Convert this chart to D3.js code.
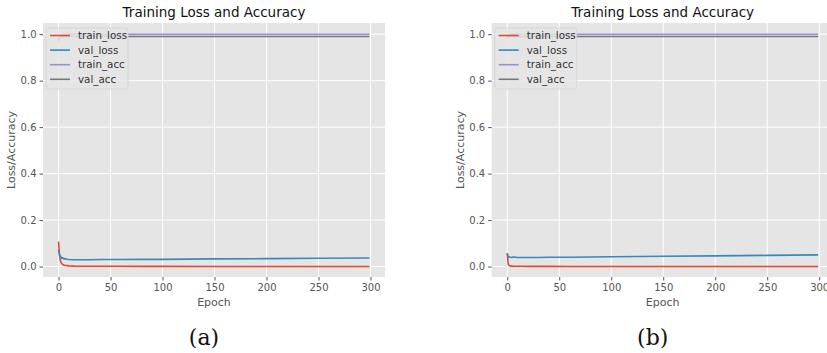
<!DOCTYPE html>
<html>
<head>
<meta charset="utf-8">
<script src="https://cdn.jsdelivr.net/npm/d3@7"></script>
<style>
  body { margin: 0; background: #fff; }
  svg { display: block; }
</style>
</head>
<body>
<div id="chart"></div>
<script>
var epochs = [0, 1, 2, 3, 4, 5, 6, 8, 10, 15, 20, 30, 40, 60, 80, 100, 150, 200, 250, 299];

// panel (a)
var trainLossA = [0.107, 0.045, 0.022, 0.013, 0.009, 0.006, 0.005, 0.004, 0.003, 0.002, 0.0015, 0.001, 0.001, 0.001, 0.0008, 0.0007, 0.0005, 0.0004, 0.0004, 0.0003];
var valLossA   = [0.072, 0.050, 0.043, 0.036, 0.038, 0.033, 0.034, 0.031, 0.030, 0.029, 0.029, 0.029, 0.030, 0.030, 0.031, 0.031, 0.033, 0.034, 0.036, 0.037];
var trainAccA  = [0.968, 0.988, 0.994, 0.996, 0.997, 0.998, 0.998, 0.999, 0.999, 0.999, 0.9995, 0.9995, 0.9995, 0.9995, 0.9995, 0.9995, 0.9995, 0.9995, 0.9995, 0.9995];
var valAccA    = [0.975, 0.984, 0.986, 0.988, 0.988, 0.989, 0.989, 0.990, 0.990, 0.990, 0.990, 0.990, 0.990, 0.990, 0.990, 0.990, 0.990, 0.990, 0.990, 0.990];

// panel (b)
var trainLossB = [0.058, 0.010, 0.004, 0.003, 0.002, 0.002, 0.0015, 0.0012, 0.001, 0.001, 0.0008, 0.0007, 0.0006, 0.0005, 0.0005, 0.0004, 0.0004, 0.0003, 0.0003, 0.0003];
var valLossB   = [0.055, 0.040, 0.042, 0.040, 0.039, 0.040, 0.041, 0.040, 0.039, 0.039, 0.039, 0.039, 0.040, 0.040, 0.041, 0.042, 0.044, 0.046, 0.048, 0.050];
var trainAccB  = [0.982, 0.996, 0.998, 0.999, 0.999, 0.9995, 0.9995, 0.9995, 0.9995, 0.9995, 0.9995, 0.9995, 0.9995, 0.9995, 0.9995, 0.9995, 0.9995, 0.9995, 0.9995, 0.9995];
var valAccB    = [0.985, 0.988, 0.989, 0.989, 0.990, 0.990, 0.990, 0.990, 0.990, 0.990, 0.990, 0.990, 0.990, 0.990, 0.990, 0.990, 0.990, 0.990, 0.990, 0.990];

var seriesNames = ["train_loss", "val_loss", "train_acc", "val_acc"];
var seriesColors = ["#E24A33", "#348ABD", "#988ED5", "#777777"];
var xTicks = [0, 50, 100, 150, 200, 250, 300];
var yTicks = [0.0, 0.2, 0.4, 0.6, 0.8, 1.0];
var panelLabels = ["(a)", "(b)"];

var width = 827, height = 353;

var svg = d3.select("#chart").append("svg")
    .attr("width", width)
    .attr("height", height);

function drawPanel(left, seriesList, label) {
  var top = 23, plotW = 342, plotH = 254;

  var xScale = d3.scaleLinear()
    .domain([-14.95, 313.95])
    .range([left, left + plotW]);
  var yScale = d3.scaleLinear()
    .domain([-0.045, 1.048])
    .range([top + plotH, top]);

  var g = svg.append("g");

  g.append("rect")
    .attr("x", left).attr("y", top)
    .attr("width", plotW).attr("height", plotH)
    .style("fill", "#E5E5E5");

  // grid
  g.selectAll(".vgrid")
    .data(xTicks)
   .enter()
    .append("line")
    .attr("class", "vgrid")
    .attr("x1", function(d) { return xScale(d); })
    .attr("x2", function(d) { return xScale(d); })
    .attr("y1", top).attr("y2", top + plotH)
    .style("stroke", "#fff").style("stroke-width", 1);
  g.selectAll(".hgrid")
    .data(yTicks)
   .enter()
    .append("line")
    .attr("class", "hgrid")
    .attr("x1", left).attr("x2", left + plotW)
    .attr("y1", function(d) { return yScale(d); })
    .attr("y2", function(d) { return yScale(d); })
    .style("stroke", "#fff").style("stroke-width", 1);

  // axes
  var xAxis = d3.axisBottom(xScale).tickValues(xTicks).tickSize(3.5).tickPadding(3)
    .tickFormat(d3.format("d"));
  var yAxis = d3.axisLeft(yScale).tickValues(yTicks).tickSize(3.5).tickPadding(3)
    .tickFormat(d3.format(".1f"));

  var gx = g.append("g")
    .attr("transform", "translate(0," + (top + plotH) + ")")
    .call(xAxis);
  var gy = g.append("g")
    .attr("transform", "translate(" + left + ",0)")
    .call(yAxis);
  [gx, gy].forEach(function(a) {
    a.select(".domain").remove();
    a.selectAll("line").style("stroke", "#555");
    a.selectAll("text")
      .style("fill", "#555")
      .style("font-size", "10px")
      .style("font-family", "DejaVu Sans");
  });

  // lines
  var line = d3.line()
    .x(function(d) { return xScale(d[0]); })
    .y(function(d) { return yScale(d[1]); });

  seriesList.forEach(function(vals, i) {
    g.append("path")
      .datum(epochs.map(function(e, j) { return [e, vals[j]]; }))
      .attr("d", line)
      .style("fill", "none")
      .style("stroke", seriesColors[i])
      .style("stroke-width", 1.6);
  });

  // title and labels
  g.append("text")
    .attr("x", left + plotW / 2).attr("y", 17)
    .attr("text-anchor", "middle")
    .text("Training Loss and Accuracy")
    .style("font-size", "13.5px")
    .style("font-family", "DejaVu Sans")
    .style("fill", "#111");

  g.append("text")
    .attr("x", left + plotW / 2).attr("y", 306)
    .attr("text-anchor", "middle")
    .text("Epoch")
    .style("font-size", "11px")
    .style("font-family", "DejaVu Sans")
    .style("fill", "#555");

  g.append("text")
    .attr("transform", "translate(" + (left - 28) + "," + (top + plotH / 2) + ") rotate(-90)")
    .attr("text-anchor", "middle")
    .text("Loss/Accuracy")
    .style("font-size", "11px")
    .style("font-family", "DejaVu Sans")
    .style("fill", "#555");

  // legend
  var lx = left + 3, ly = top + 5;
  g.append("rect")
    .attr("x", lx).attr("y", ly)
    .attr("width", 82).attr("height", 61)
    .attr("rx", 3)
    .style("fill", "#E5E5E5").style("fill-opacity", 0.85)
    .style("stroke", "#d4d4d4").style("stroke-width", 0.8);

  var items = g.selectAll(".legendItem")
    .data(seriesNames)
   .enter()
    .append("g")
    .attr("class", "legendItem")
    .attr("transform", function(d, i) { return "translate(" + lx + "," + (ly + 7.5 + i * 14.6) + ")"; });
  items.append("line")
    .attr("x1", 4).attr("x2", 24)
    .attr("y1", 0).attr("y2", 0)
    .style("stroke", function(d, i) { return seriesColors[i]; })
    .style("stroke-width", 1.6);
  items.append("text")
    .attr("x", 32).attr("y", 3.6)
    .text(function(d) { return d; })
    .style("font-size", "10.3px")
    .style("font-family", "DejaVu Sans")
    .style("fill", "#333");

  // panel caption
  svg.append("text")
    .attr("x", left + plotW / 2 - 10).attr("y", 345)
    .attr("text-anchor", "middle")
    .text(label)
    .style("font-size", "22px")
    .style("font-family", "DejaVu Serif")
    .style("fill", "#111");
}

drawPanel(43, [trainLossA, valLossA, trainAccA, valAccA], panelLabels[0]);
drawPanel(491.7, [trainLossB, valLossB, trainAccB, valAccB], panelLabels[1]);
</script>
</body>
</html>
